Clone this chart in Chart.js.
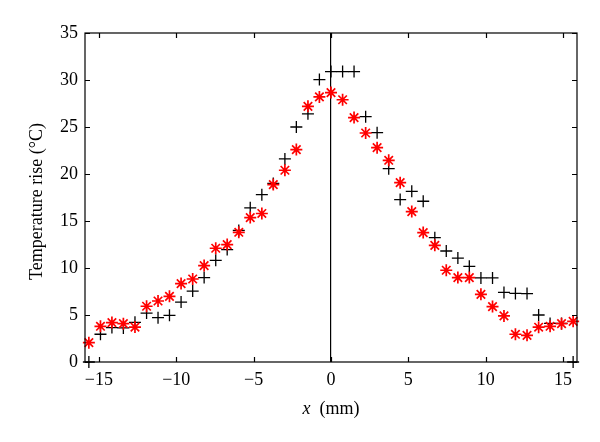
<!DOCTYPE html>
<html>
<head>
<meta charset="utf-8">
<script src="https://cdn.jsdelivr.net/npm/chart.js@4/dist/chart.umd.min.js"></script>
<style>
    html, body { margin: 0; padding: 0; background: #fff; }
    #wrap { width: 600px; height: 442px; }
</style>
</head>
<body>
<div id="wrap"><canvas id="tempChart" width="600" height="442"></canvas></div>
<script>
// positions along x (mm)
const xPos = [-15.65, -14.9, -14.16, -13.42, -12.67, -11.92, -11.18, -10.44, -9.69, -8.94,
    -8.2, -7.45, -6.71, -5.96, -5.22, -4.47, -3.73, -2.98, -2.24, -1.49,
    -0.75, 0, 0.75, 1.49, 2.24, 2.98, 3.73, 4.47, 5.22, 5.96,
    6.71, 7.45, 8.2, 8.94, 9.69, 10.44, 11.18, 11.92, 12.67, 13.42,
    14.16, 14.9, 15.65];

// red asterisks
const riseStar = [2.06, 3.8, 4.19, 4.08, 3.72, 5.93, 6.49, 6.99, 8.34, 8.83,
    10.26, 12.1, 12.49, 13.8, 15.36, 15.8, 18.87, 20.4, 22.6, 27.2,
    28.2, 28.66, 27.9, 26.0, 24.36, 22.8, 21.46, 19.08, 16.0, 13.77,
    12.41, 9.76, 8.98, 8.98, 7.2, 5.9, 4.9, 2.95, 2.84, 3.7,
    3.8, 4.08, 4.33];

// black crosses
const riseCross = [0, 2.95, 3.66, 3.62, 4.22, 5.21, 4.72, 4.97, 6.38, 7.55,
    8.98, 10.82, 11.96, 14.0, 16.4, 17.8, 19.0, 21.6, 25.0, 26.4,
    30.04, 30.9, 30.9, 30.9, 26.1, 24.4, 20.57, 17.28, 18.16, 17.1,
    13.23, 11.81, 11.06, 10.18, 8.94, 8.94, 7.4, 7.3, 7.28, 5.0,
    4.1, 4.1, 0];

const xTicks = [-15, -10, -5, 0, 5, 10, 15];
const yTicks = [0, 5, 10, 15, 20, 25, 30, 35];

const serif = 'Liberation Serif';
const fontSize = 18;

const toPoints = (vals) => xPos
    .map((x, i) => ({ x: x, y: vals[i] }))
    .filter((p) => p.y !== null);

const fmt = (v) => String(v).replace('-', '\u2212');

// MATLAB-ish box with inward ticks and axis titles
const frame = {
    id: 'frame',
    afterDraw(chart) {
        const { ctx, chartArea: a, scales } = chart;
        const len = 5;
        ctx.save();
        ctx.strokeStyle = '#000';
        ctx.lineWidth = 1.2;
        ctx.strokeRect(a.left, a.top, a.right - a.left, a.bottom - a.top);

        ctx.beginPath();
        xTicks.forEach((v) => {
            const px = Math.round(scales.x.getPixelForValue(v)) + 0.5;
            ctx.moveTo(px, a.bottom);
            ctx.lineTo(px, a.bottom - len);
            ctx.moveTo(px, a.top);
            ctx.lineTo(px, a.top + len);
        });
        yTicks.forEach((v) => {
            const py = Math.round(scales.y.getPixelForValue(v)) + 0.5;
            ctx.moveTo(a.left, py);
            ctx.lineTo(a.left + len, py);
            ctx.moveTo(a.right, py);
            ctx.lineTo(a.right - len, py);
        });
        ctx.stroke();

        const plain = fontSize + 'px "' + serif + '"';
        const italic = 'italic ' + plain;

        // y title
        ctx.fillStyle = '#000';
        ctx.font = plain;
        ctx.textAlign = 'center';
        ctx.textBaseline = 'middle';
        ctx.save();
        ctx.translate(37, (a.top + a.bottom) / 2 + 4);
        ctx.rotate(-Math.PI / 2);
        ctx.fillText('Temperature rise (\u00B0C)', 0, 0);
        ctx.restore();

        // x title, italic x
        const cx = (a.left + a.right) / 2;
        ctx.textAlign = 'left';
        ctx.font = italic;
        const wx = ctx.measureText('x').width;
        ctx.font = plain;
        const wr = ctx.measureText('  (mm)').width;
        const start = cx - (wx + wr) / 2;
        ctx.font = italic;
        ctx.fillText('x', start, 409);
        ctx.font = plain;
        ctx.fillText('  (mm)', start + wx, 409);
        ctx.restore();
    },
};

const el = document.getElementById('tempChart');

new Chart(el, {
    type: 'scatter',
    data: {
        datasets: [
            {
                label: 'Asterisks',
                data: toPoints(riseStar),
                pointStyle: 'star',
                radius: 6,
                borderColor: '#ff0000',
                backgroundColor: '#ff0000',
                borderWidth: 1.7,
                clip: false,
            },
            {
                label: 'Crosses',
                data: toPoints(riseCross),
                pointStyle: 'cross',
                radius: 6,
                borderColor: '#000000',
                backgroundColor: '#000000',
                borderWidth: 1.3,
                clip: false,
            },
        ],
    },
    options: {
        responsive: false,
        animation: false,
        layout: {
            padding: { top: 33, right: 23, left: 0, bottom: 0 },
        },
        plugins: {
            legend: { display: false },
            tooltip: { enabled: false },
        },
        scales: {
            x: {
                type: 'linear',
                min: -15.9,
                max: 15.9,
                afterBuildTicks: (s) => { s.ticks = xTicks.map((v) => ({ value: v })); },
                afterFit: (s) => { s.height = 80; },
                border: { display: false },
                grid: {
                    drawTicks: false,
                    lineWidth: 1.2,
                    color: (c) => (c.tick && c.tick.value === 0 ? '#000000' : 'rgba(0,0,0,0)'),
                },
                ticks: {
                    padding: 7,
                    color: '#000',
                    maxRotation: 0,
                    font: { family: serif, size: fontSize },
                    callback: (v) => fmt(v),
                },
            },
            y: {
                min: 0,
                max: 35,
                afterBuildTicks: (s) => { s.ticks = yTicks.map((v) => ({ value: v })); },
                afterFit: (s) => { s.width = 85; },
                border: { display: false },
                grid: { display: false, drawTicks: false },
                ticks: {
                    padding: 7,
                    color: '#000',
                    font: { family: serif, size: fontSize },
                    callback: (v) => fmt(v),
                },
            },
        },
    },
    plugins: [frame],
});
</script>
</body>
</html>
